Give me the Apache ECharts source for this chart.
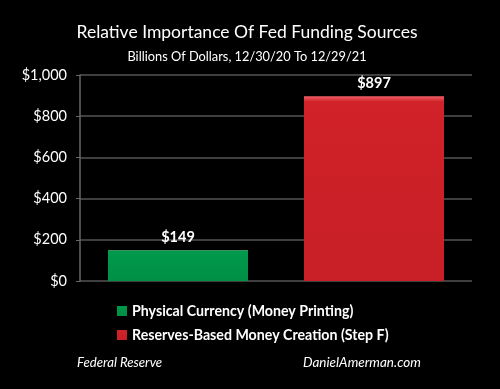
<!DOCTYPE html>
<html><head><meta charset="utf-8">
<script src="https://cdn.jsdelivr.net/npm/echarts@6/dist/echarts.min.js"></script>
<style>html,body{margin:0;padding:0;background:#000;}#c{width:500px;height:389px;}</style>
</head><body><div id="c"></div>
<script>
const categories = ['Physical Currency', 'Reserves-Based'];
const seriesNames = ['Physical Currency (Money Printing)', 'Reserves-Based Money Creation (Step F)'];
const physicalValues = [149, '-'];
const reservesValues = ['-', 897];
const yTicks = [0, 200, 400, 600, 800, 1000];

const font = 'Lato, "Open Sans", sans-serif';
const chart = echarts.init(document.getElementById('c'));
function grad(top, mid, bot) {
  return new echarts.graphic.LinearGradient(0, 0, 0, 1, [
    {offset: 0, color: top}, {offset: 0.03, color: mid}, {offset: 1, color: bot}
  ]);
}
chart.setOption({
  backgroundColor: '#000',
  animation: false,
  title: [
    {text: 'Relative Importance Of Fed Funding Sources', left: 242, top: 18, textAlign: 'center',
     textStyle: {color: '#fff', fontSize: 17.5, fontWeight: 'normal', fontFamily: font}},
    {text: 'Billions Of Dollars, 12/30/20 To 12/29/21', left: 242, top: 45, textAlign: 'center',
     textStyle: {color: '#fff', fontSize: 12.8, fontWeight: 'normal', fontFamily: font}},
    {text: 'Federal Reserve', left: 72, top: 351,
     textStyle: {color: '#fff', fontSize: 13.2, fontWeight: 'normal', fontStyle: 'italic', fontFamily: font}},
    {text: 'DanielAmerman.com', left: 298, top: 351,
     textStyle: {color: '#fff', fontSize: 13.5, fontWeight: 'normal', fontStyle: 'italic', fontFamily: font}}
  ],
  legend: {
    orient: 'vertical', left: 112, top: 299, itemWidth: 10, itemHeight: 10, itemGap: 10,
    icon: 'rect',
    textStyle: {color: '#fff', fontSize: 14.2, fontWeight: 'bold', fontFamily: font},
    data: seriesNames
  },
  grid: {left: 80, right: 28, top: 75, bottom: 108, containLabel: false},
  xAxis: {
    type: 'category', data: categories,
    axisLine: {show: false}, axisTick: {show: false}, axisLabel: {show: false}
  },
  yAxis: {
    type: 'value', min: 0, max: 1000, interval: 200,
    axisLine: {show: true, lineStyle: {color: '#666', width: 1.5}},
    axisTick: {show: true, length: 4, lineStyle: {color: '#666'}},
    splitLine: {lineStyle: {color: '#555', width: 1.5}},
    axisLabel: {color: '#fff', fontSize: 14.5, fontFamily: font, margin: 13,
      formatter: v => '$' + v.toLocaleString('en-US')}
  },
  series: [
    {name: seriesNames[0], type: 'bar', data: physicalValues, barWidth: 140, barGap: '-100%',
     itemStyle: {color: grad('#5fd08a', '#00994c', '#008f45')},
     label: {show: true, position: 'top', distance: 5, color: '#fff', fontSize: 14.5, fontWeight: 'bold', fontFamily: font,
       formatter: p => '$' + p.value}},
    {name: seriesNames[1], type: 'bar', data: reservesValues, barWidth: 140, barGap: '-100%',
     itemStyle: {color: grad('#f06068', '#d02228', '#c81f26')},
     label: {show: true, position: 'top', distance: 5, color: '#fff', fontSize: 14.5, fontWeight: 'bold', fontFamily: font,
       formatter: p => '$' + p.value}}
  ]
});
</script></body></html>
